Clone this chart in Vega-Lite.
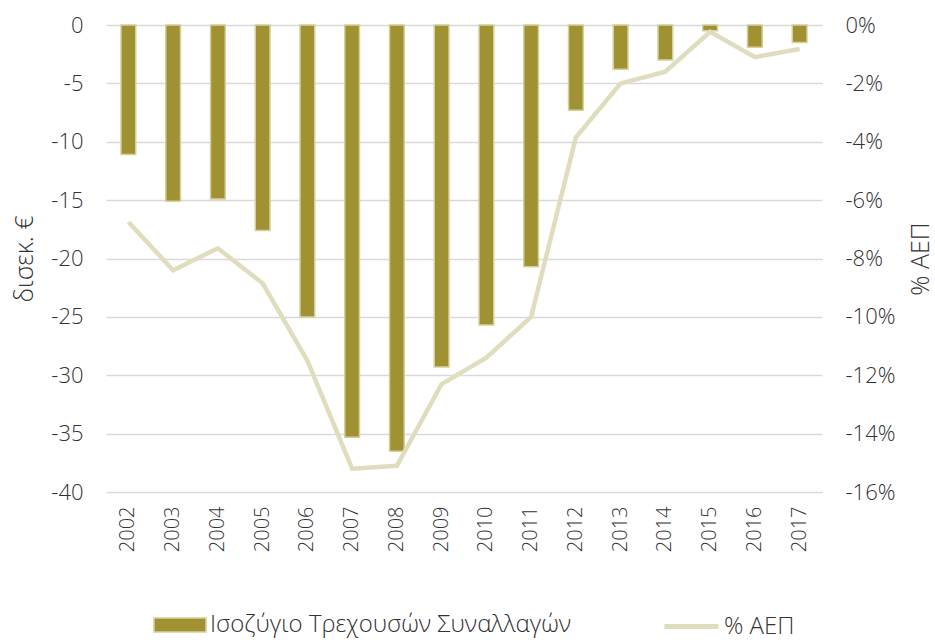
{
  "$schema": "https://vega.github.io/schema/vega-lite/v6.json",
  "width": 716,
  "height": 467,
  "autosize": {"type": "none"},
  "padding": {"left": 106, "top": 25, "right": 113, "bottom": 148},
  "background": "white",
  "config": {
    "view": {"stroke": null},
    "font": "Open Sans",
    "axis": {"labelFont": "Open Sans", "labelFontWeight": 300, "labelColor": "#333333", "titleFont": "Open Sans", "titleFontWeight": 300, "titleColor": "#333333", "domain": false, "ticks": false, "labelOverlap": false},
    "legend": {"labelFont": "Open Sans", "labelFontWeight": 300, "labelColor": "#333333", "labelFontSize": 24, "padding": 0, "labelLimit": 500}
  },
  "data": {
    "values": [
      {"year": "2002", "bal": -11.1, "gdp": -6.75},
      {"year": "2003", "bal": -15.1, "gdp": -8.4},
      {"year": "2004", "bal": -14.9, "gdp": -7.65},
      {"year": "2005", "bal": -17.6, "gdp": -8.85},
      {"year": "2006", "bal": -25.0, "gdp": -11.5},
      {"year": "2007", "bal": -35.3, "gdp": -15.2},
      {"year": "2008", "bal": -36.5, "gdp": -15.1},
      {"year": "2009", "bal": -29.3, "gdp": -12.3},
      {"year": "2010", "bal": -25.7, "gdp": -11.4},
      {"year": "2011", "bal": -20.7, "gdp": -10.0},
      {"year": "2012", "bal": -7.3, "gdp": -3.85},
      {"year": "2013", "bal": -3.8, "gdp": -2.0},
      {"year": "2014", "bal": -3.0, "gdp": -1.6},
      {"year": "2015", "bal": -0.5, "gdp": -0.23},
      {"year": "2016", "bal": -1.9, "gdp": -1.1},
      {"year": "2017", "bal": -1.5, "gdp": -0.82}
    ]
  },
  "encoding": {
    "x": {
      "field": "year", "type": "ordinal",
      "scale": {"paddingInner": 0.67, "paddingOuter": 0.335},
      "axis": {"title": null, "labelAngle": 270, "labelFontSize": 20, "labelPadding": 14, "grid": false}
    }
  },
  "layer": [
    {
      "mark": {"type": "bar", "stroke": "#d6d09c", "strokeWidth": 1.5},
      "encoding": {
        "y": {
          "field": "bal", "type": "quantitative",
          "scale": {"domain": [-40, 0], "nice": false},
          "axis": {"orient": "left", "title": "δισεκ. €", "titleFontSize": 25, "titlePadding": 13, "labelFontSize": 22, "labelPadding": 23, "values": [0, -5, -10, -15, -20, -25, -30, -35, -40], "labelExpr": "'' + datum.value", "grid": true, "gridColor": "#d9d9d9", "gridWidth": 1.5}
        },
        "fill": {
          "datum": "Ισοζύγιο Τρεχουσών Συναλλαγών",
          "scale": {"range": ["#a09232"]},
          "legend": {"title": null, "orient": "none", "legendX": 47, "legendY": 573, "symbolType": "M-1,-0.27H1V0.27H-1Z", "symbolSize": 2704, "symbolStrokeColor": "#d6d09c", "symbolStrokeWidth": 1.5, "labelOffset": 3}
        }
      }
    },
    {
      "mark": {"type": "line", "strokeWidth": 4.5},
      "encoding": {
        "y": {
          "field": "gdp", "type": "quantitative",
          "scale": {"domain": [-16, 0], "nice": false},
          "axis": {"orient": "right", "title": "% ΑΕΠ", "titleFontSize": 25, "titleAngle": 270, "titlePadding": 39, "labelFontSize": 22, "labelPadding": 23, "values": [0, -2, -4, -6, -8, -10, -12, -14, -16], "labelExpr": "datum.value + '%'", "grid": false}
        },
        "stroke": {
          "datum": "% ΑΕΠ",
          "scale": {"range": ["#e0ddbe"]},
          "legend": {"title": null, "orient": "none", "legendX": 556, "legendY": 572, "symbolType": "stroke", "symbolSize": 2916, "symbolStrokeWidth": 5, "labelOffset": 3}
        }
      }
    }
  ],
  "resolve": {"scale": {"y": "independent", "fill": "independent", "stroke": "independent"}}
}
